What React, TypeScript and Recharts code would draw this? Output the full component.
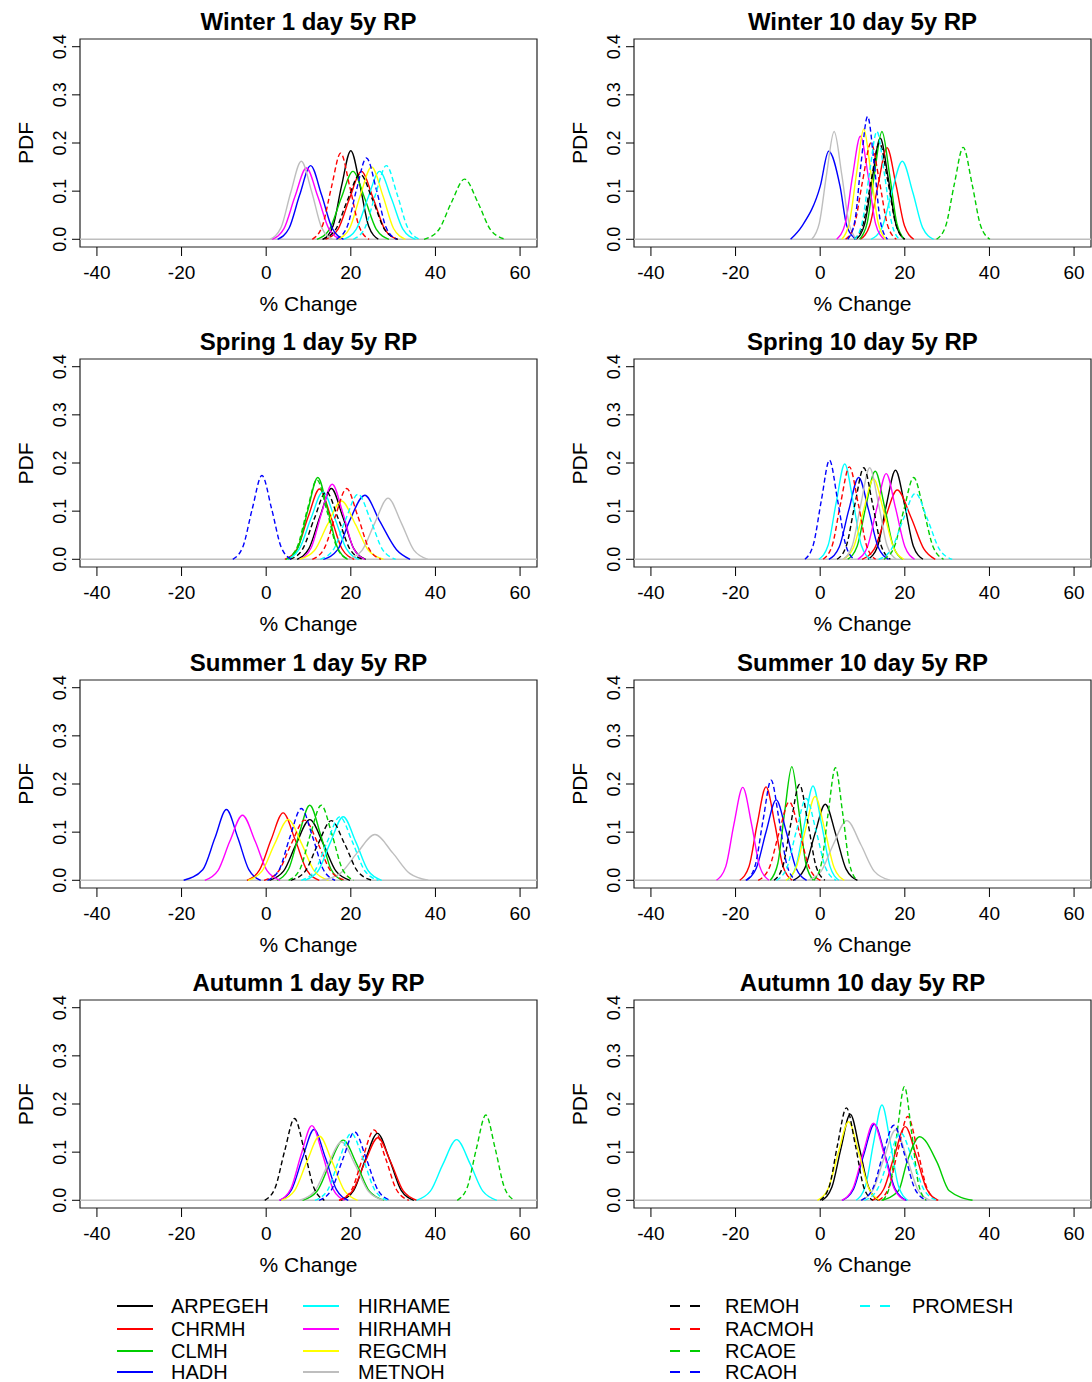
import React from "react";
import { LineChart, Line, XAxis, YAxis, ReferenceLine, ReferenceArea } from "recharts";

const MODELS = ["ARPEGEH", "CHRMH", "CLMH", "HADH", "HIRHAME", "HIRHAMH", "REGCMH", "METNOH", "REMOH", "RACMOH", "RCAOE", "RCAOH", "PROMESH"];
const COLORS = ["#000000", "#FF0000", "#00CD00", "#0000FF", "#00FFFF", "#FF00FF", "#FFFF00", "#BEBEBE", "#000000", "#FF0000", "#00CD00", "#0000FF", "#00FFFF"];
const DASHED = [false, false, false, false, false, false, false, false, true, true, true, true, true];

// one row per model: x where each curve sits at the LEVELS share of its peak
// (left foot, 15%, 60%, mode, 60%, 15%, right foot), then the peak density
const WINTER_1 = [
  [13.5, 15.8, 17.8, 20.0, 22.2, 24.2, 26.5, 0.184],
  [14.0, 17.0, 19.7, 22.5, 25.3, 28.0, 31.0, 0.141],
  [12.0, 15.0, 17.7, 20.5, 23.3, 26.0, 29.0, 0.141],
  [2.7, 5.4, 7.9, 10.5, 13.1, 15.6, 18.3, 0.153],
  [18.3, 21.3, 24.0, 26.8, 29.6, 32.3, 35.3, 0.141],
  [1.4, 4.2, 6.8, 9.5, 12.2, 14.8, 17.6, 0.148],
  [16.9, 19.7, 22.2, 24.9, 27.6, 30.1, 32.9, 0.15],
  [0.9, 3.5, 5.8, 8.3, 10.8, 13.1, 15.7, 0.162],
  [13.3, 16.4, 19.2, 22.2, 25.2, 28.0, 31.1, 0.135],
  [10.9, 13.25, 15.4, 17.6, 19.8, 21.95, 24.3, 0.179],
  [37.3, 40.7, 43.7, 46.9, 50.1, 53.1, 56.5, 0.125],
  [16.6, 19.1, 21.3, 23.7, 26.1, 28.3, 30.8, 0.169],
  [20.6, 23.3, 25.8, 28.4, 31.0, 33.5, 36.2, 0.153],
];
const WINTER_10 = [
  [8.5, 10.5, 12.3, 14.2, 16.1, 17.9, 19.9, 0.21],
  [9.5, 11.7, 13.7, 15.8, 17.9, 19.9, 22.1, 0.19],
  [9.3, 11.1, 12.8, 14.6, 16.4, 18.1, 19.9, 0.224],
  [-7.0, -4.3, 0.0, 2.0, 4.7, 6.3, 8.5, 0.183],
  [12.0, 14.6, 16.9, 19.4, 21.9, 24.2, 26.8, 0.162],
  [3.9, 5.9, 7.6, 9.5, 11.4, 13.1, 15.1, 0.214],
  [5.1, 6.9, 8.6, 10.3, 12.0, 13.7, 15.5, 0.229],
  [-2.0, -0.2, 1.5, 3.3, 5.1, 6.8, 8.6, 0.224],
  [8.0, 10.1, 12.0, 14.0, 16.0, 17.9, 20.0, 0.2],
  [6.0, 8.1, 10.0, 12.0, 14.0, 15.9, 18.0, 0.2],
  [27.5, 29.7, 31.7, 33.8, 35.9, 37.9, 40.1, 0.191],
  [6.5, 8.2, 9.6, 11.2, 12.8, 14.2, 15.9, 0.255],
  [8.1, 9.9, 11.6, 13.4, 15.2, 16.9, 18.7, 0.224],
];
const SPRING_1 = [
  [7.3, 10.1, 12.7, 15.4, 18.1, 20.7, 23.5, 0.147],
  [4.4, 7.3, 9.9, 12.6, 15.3, 17.9, 20.8, 0.146],
  [5.2, 7.6, 9.85, 12.2, 14.55, 16.8, 19.25, 0.17],
  [13.5, 16.9, 19.7, 23.3, 26.8, 30.8, 34.0, 0.133],
  [4.85, 7.8, 10.55, 13.4, 16.25, 19.0, 21.95, 0.14],
  [7.9, 10.6, 13.0, 15.6, 18.2, 20.6, 23.3, 0.156],
  [7.9, 11.4, 14.5, 17.8, 21.1, 24.2, 27.7, 0.121],
  [19.4, 22.7, 25.7, 28.8, 31.9, 34.9, 38.2, 0.127],
  [5.65, 8.6, 11.35, 14.2, 17.05, 19.8, 22.75, 0.14],
  [10.9, 13.7, 16.3, 19.0, 21.7, 24.3, 27.1, 0.147],
  [4.7, 7.3, 9.6, 12.0, 14.4, 16.7, 19.3, 0.165],
  [-7.9, -5.5, -3.3, -1.0, 1.3, 3.5, 5.9, 0.174],
  [12.8, 15.9, 18.7, 21.7, 24.7, 27.5, 30.6, 0.135],
];
const SPRING_10 = [
  [11.3, 13.6, 15.6, 17.8, 20.0, 22.0, 24.3, 0.185],
  [9.9, 12.8, 15.4, 18.2, 21.5, 24.5, 27.2, 0.144],
  [6.5, 8.75, 10.8, 13.0, 15.2, 17.25, 19.5, 0.183],
  [2.05, 4.5, 6.75, 9.1, 11.45, 13.7, 16.15, 0.17],
  [-0.3, 1.9, 3.8, 5.8, 7.8, 9.7, 11.9, 0.198],
  [8.9, 11.2, 13.4, 15.6, 17.8, 20.0, 22.3, 0.178],
  [5.4, 7.9, 10.2, 12.6, 15.0, 17.3, 19.8, 0.167],
  [5.4, 7.6, 9.6, 11.7, 13.8, 15.8, 18.0, 0.19],
  [4.0, 6.2, 8.2, 10.3, 12.4, 14.4, 16.6, 0.19],
  [0.7, 2.85, 4.8, 6.9, 9.0, 10.95, 13.1, 0.192],
  [15.05, 17.5, 19.75, 22.1, 24.45, 26.7, 29.15, 0.17],
  [-3.6, -1.6, 0.3, 2.2, 4.1, 6.0, 8.0, 0.206],
  [13.8, 16.8, 19.6, 22.5, 25.4, 28.2, 31.2, 0.137],
];
const SUMMER_1 = [
  [0.8, 4.1, 7.1, 10.3, 13.5, 16.5, 19.8, 0.126],
  [-4.55, -1.6, 1.15, 4.0, 6.85, 9.6, 12.55, 0.14],
  [2.6, 5.3, 7.7, 10.3, 12.9, 15.3, 18.0, 0.156],
  [-19.5, -15.0, -12.1, -9.4, -6.7, -4.1, -1.3, 0.147],
  [9.1, 12.3, 15.2, 18.2, 21.2, 24.1, 27.3, 0.132],
  [-14.5, -11.4, -8.6, -5.6, -2.6, 0.2, 3.3, 0.135],
  [-4.3, -1.0, 2.0, 5.2, 8.4, 11.4, 14.7, 0.126],
  [13.1, 17.5, 21.5, 25.7, 29.9, 33.9, 38.3, 0.095],
  [5.8, 9.2, 12.2, 15.4, 18.6, 21.6, 25.0, 0.124],
  [-0.5, 2.9, 5.9, 9.1, 12.3, 15.3, 18.7, 0.125],
  [5.3, 8.0, 10.4, 13.0, 15.6, 18.0, 20.7, 0.156],
  [0.3, 3.1, 5.6, 8.3, 11.0, 13.5, 16.3, 0.149],
  [8.3, 11.5, 14.4, 17.4, 20.4, 23.3, 26.5, 0.132],
];
const SUMMER_10 = [
  [-6.4, -3.7, -1.3, 1.2, 3.7, 6.1, 8.8, 0.158],
  [-19.0, -16.8, -14.9, -12.8, -10.7, -8.8, -6.6, 0.194],
  [-11.8, -10.0, -8.4, -6.7, -5.0, -3.4, -1.6, 0.236],
  [-17.6, -15.1, -12.8, -10.4, -8.0, -5.7, -3.2, 0.167],
  [-7.8, -5.7, -3.7, -1.7, 0.3, 2.3, 4.4, 0.196],
  [-24.5, -22.3, -20.4, -18.3, -16.2, -14.3, -12.1, 0.193],
  [-8.1, -5.7, -3.5, -1.2, 1.1, 3.3, 5.7, 0.174],
  [-3.0, 0.2, 3.1, 6.3, 9.6, 12.8, 16.5, 0.124],
  [-10.9, -8.8, -6.9, -4.9, -2.9, -1.0, 1.1, 0.199],
  [-14.65, -12.1, -9.75, -7.3, -4.85, -2.5, 0.05, 0.163],
  [-1.5, 0.3, 1.9, 3.6, 5.3, 6.9, 8.7, 0.234],
  [-17.4, -15.35, -13.5, -11.6, -9.7, -7.85, -5.8, 0.208],
  [-10.35, -7.9, -5.65, -3.3, -0.95, 1.3, 3.75, 0.17],
];
const AUTUMN_1 = [
  [17.7, 20.7, 23.4, 26.3, 29.2, 31.9, 34.9, 0.139],
  [17.2, 20.4, 23.3, 26.4, 29.5, 32.4, 35.6, 0.13],
  [8.6, 12.0, 15.0, 18.2, 21.4, 24.4, 27.8, 0.125],
  [3.2, 6.0, 8.6, 11.3, 14.0, 16.6, 19.4, 0.147],
  [35.5, 38.8, 41.8, 45.0, 48.2, 51.2, 54.5, 0.126],
  [3.1, 5.8, 8.2, 10.8, 13.4, 15.8, 18.5, 0.155],
  [3.6, 6.7, 9.6, 12.6, 15.6, 18.5, 21.6, 0.133],
  [7.9, 11.4, 14.5, 17.8, 21.1, 24.2, 27.7, 0.121],
  [-0.35, 2.1, 4.35, 6.7, 9.05, 11.3, 13.75, 0.17],
  [17.3, 20.2, 22.8, 25.5, 28.2, 30.8, 33.7, 0.146],
  [45.15, 47.5, 49.65, 51.9, 54.15, 56.3, 58.65, 0.177],
  [12.5, 15.4, 18.1, 20.9, 23.7, 26.4, 29.3, 0.142],
  [11.5, 14.5, 17.2, 20.1, 23.0, 25.7, 28.7, 0.139],
];
const AUTUMN_10 = [
  [0.4, 2.75, 4.9, 7.1, 9.3, 11.45, 13.8, 0.179],
  [12.3, 15.0, 17.5, 20.1, 22.7, 25.2, 27.9, 0.153],
  [14.5, 18.5, 20.5, 23.5, 27.6, 30.5, 36.0, 0.132],
  [5.2, 7.9, 10.3, 12.8, 15.3, 17.7, 20.4, 0.158],
  [8.5, 10.7, 12.6, 14.6, 16.6, 18.5, 20.7, 0.198],
  [5.1, 7.7, 10.1, 12.6, 15.1, 17.5, 20.1, 0.16],
  [-0.65, 1.9, 4.25, 6.7, 9.15, 11.5, 14.05, 0.163],
  [9.6, 12.5, 15.1, 17.8, 20.5, 23.1, 26.0, 0.146],
  [0.0, 2.15, 4.1, 6.2, 8.3, 10.25, 12.4, 0.192],
  [13.8, 16.2, 18.4, 20.7, 23.0, 25.2, 27.6, 0.174],
  [14.8, 16.6, 18.2, 19.9, 21.6, 23.2, 25.0, 0.236],
  [9.7, 12.4, 14.8, 17.4, 20.0, 22.4, 25.1, 0.156],
  [10.45, 13.4, 16.15, 19.0, 21.85, 24.6, 27.55, 0.14],
];

// share of the peak at each of the seven x values above
const LEVELS = [0, 0.15, 0.6, 1, 0.6, 0.15, 0];
const X_TICKS = [-40, -20, 0, 20, 40, 60];
const Y_TICKS = [0, 0.1, 0.2, 0.3, 0.4];
const TITLES = [
  "Winter 1 day 5y RP", "Winter 10 day 5y RP",
  "Spring 1 day 5y RP", "Spring 10 day 5y RP",
  "Summer 1 day 5y RP", "Summer 10 day 5y RP",
  "Autumn 1 day 5y RP", "Autumn 10 day 5y RP",
];
const CURVES = [WINTER_1, WINTER_10, SPRING_1, SPRING_10, SUMMER_1, SUMMER_10, AUTUMN_1, AUTUMN_10];

const FONT = "'Liberation Sans', Arial, sans-serif";
const ROW_TOP = [0, 320.4, 640.8, 961.2];
const COL_LEFT = [0, 554];
const CHART_W = 546;
const CHART_H = 320;
const PLOT_TOP = 39;
const PLOT_BOTTOM = 247;

const toPoints = (c: number[]) => LEVELS.map((lv, k) => ({ x: c[k], y: lv * c[7] }));

const XTick = (p: any) => (
  <text x={p.x} y={PLOT_BOTTOM + 32} textAnchor="middle" fontSize={19} fontFamily={FONT} fill="#000">
    {p.payload.value}
  </text>
);

const YTick = (p: any) => (
  <text x={66} y={p.y} transform={`rotate(-90, 66, ${p.y})`} textAnchor="middle" fontSize={18} fontFamily={FONT} fill="#000">
    {Number(p.payload.value).toFixed(1)}
  </text>
);

function Panel({ curves, left, top }: { curves: number[][]; left: number; top: number }) {
  return (
    <div style={{ position: "absolute", left, top }}>
      <LineChart width={CHART_W} height={CHART_H} margin={{ top: PLOT_TOP, right: 9, bottom: 0, left: 0 }}>
        <XAxis type="number" dataKey="x" domain={[-44, 64]} ticks={X_TICKS} interval={0} allowDataOverflow
          height={CHART_H - PLOT_BOTTOM} axisLine={false} tickSize={9} tickLine={{ stroke: "#000" }} tick={XTick} />
        <YAxis type="number" domain={[-0.016, 0.416]} ticks={Y_TICKS} interval={0} allowDataOverflow
          width={80} axisLine={false} tickSize={8} tickLine={{ stroke: "#000" }} tick={YTick} />
        <ReferenceLine y={0} stroke="#BEBEBE" strokeWidth={1.5} />
        {curves.map((c, i) => (
          <Line key={MODELS[i]} data={toPoints(c)} dataKey="y" type="monotone" dot={false}
            stroke={COLORS[i]} strokeWidth={1.4} strokeDasharray={DASHED[i] ? "5 3" : undefined}
            isAnimationActive={false} />
        ))}
        <ReferenceArea x1={-44} x2={64} y1={-0.016} y2={0.416} fill="none" stroke="#222" strokeWidth={1.2} ifOverflow="visible" />
      </LineChart>
    </div>
  );
}

const LEGEND_ROWS = [1306, 1329, 1351, 1372];
const LEGEND_COLS = [
  { line: 117, text: 171, models: [0, 1, 2, 3] },
  { line: 303, text: 358, models: [4, 5, 6, 7] },
  { line: 670, text: 725, models: [8, 9, 10, 11] },
  { line: 860, text: 912, models: [12] },
];

export default function App() {
  return (
    <div style={{ position: "absolute", left: 0, top: 0, width: 1092, height: 1382, overflow: "hidden", background: "#fff" }}>
      <svg width={1092} height={1382} style={{ position: "absolute", left: 0, top: 0 }}>
        {TITLES.map((t, i) => {
          const cx = COL_LEFT[i % 2] + 308.5;
          const top = ROW_TOP[Math.floor(i / 2)];
          return (
            <g key={t} fontFamily={FONT} fill="#000">
              <text x={cx} y={top + 30} textAnchor="middle" fontSize={24} fontWeight="bold">{t}</text>
              <text x={cx} y={top + 311} textAnchor="middle" fontSize={21}>% Change</text>
              <text x={COL_LEFT[i % 2] + 33} y={top + 143} transform={`rotate(-90, ${COL_LEFT[i % 2] + 33}, ${top + 143})`}
                textAnchor="middle" fontSize={21}>PDF</text>
            </g>
          );
        })}
        {LEGEND_COLS.map((col) =>
          col.models.map((m, r) => (
            <g key={MODELS[m]}>
              <line x1={col.line} x2={col.line + (DASHED[m] ? 30 : 36)} y1={LEGEND_ROWS[r]} y2={LEGEND_ROWS[r]}
                stroke={COLORS[m]} strokeWidth={1.8} strokeDasharray={DASHED[m] ? "10 10" : undefined} />
              <text x={col.text} y={LEGEND_ROWS[r] + 7} fontSize={20} fontFamily={FONT} fill="#000">{MODELS[m]}</text>
            </g>
          ))
        )}
      </svg>
      {CURVES.map((c, i) => (
        <Panel key={TITLES[i]} curves={c} left={COL_LEFT[i % 2]} top={ROW_TOP[Math.floor(i / 2)]} />
      ))}
    </div>
  );
}
